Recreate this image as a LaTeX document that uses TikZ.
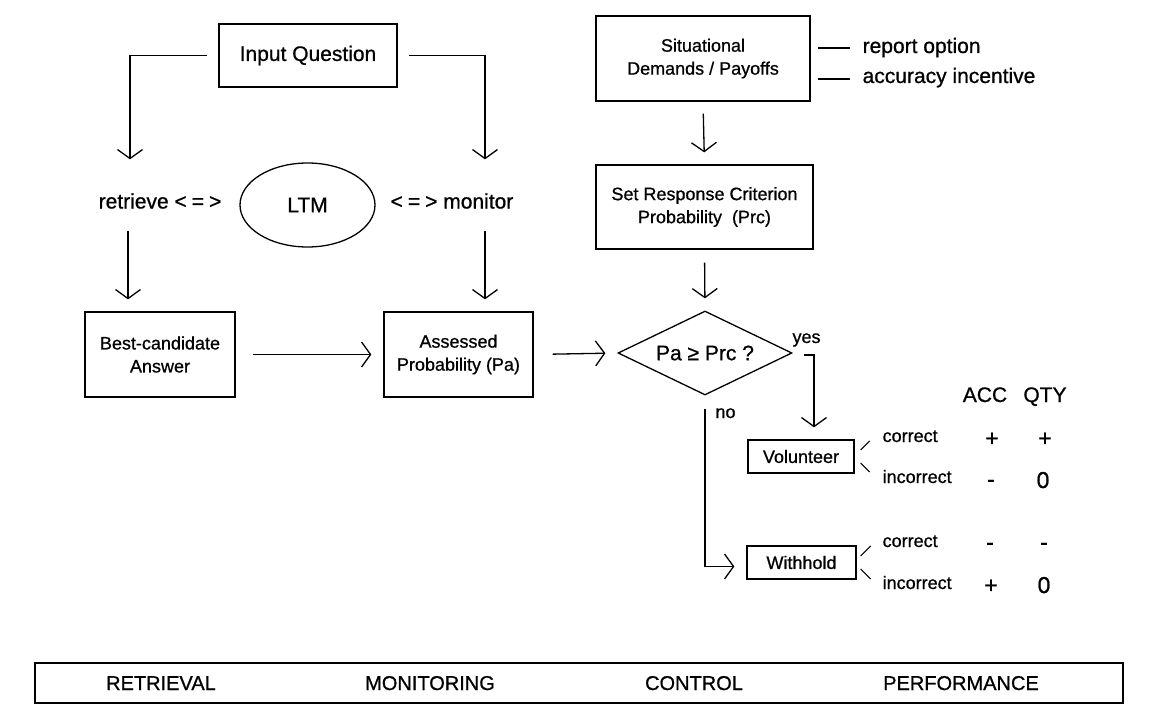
\documentclass[tikz,border=0pt]{standalone}
\usepackage{fontspec}
\setmainfont{Liberation Sans}[BoldFont={Liberation Sans},BoldFeatures={FakeBold=0.8}]
\usetikzlibrary{arrows.meta,shapes.geometric,calc}
\begin{document}
\begin{tikzpicture}[x=1pt,y=-1pt,
  line width=1.3pt,
  box/.style={draw, rectangle, inner sep=0pt, align=center, font=\fontsize{18}{23}\selectfont\bfseries},
  arr/.style={-{Straight Barb[length=9pt,width=25pt]}, shorten >=12pt},
  big/.style={font=\fontsize{21}{25}\selectfont\bfseries, inner sep=0pt},
  med/.style={font=\fontsize{18}{22}\selectfont\bfseries, inner sep=0pt},
  sign/.style={font=\fontsize{23}{25}\selectfont\bfseries, inner sep=0pt, anchor=base},
  phase/.style={font=\fontsize{20}{24}\selectfont\bfseries, inner sep=0pt, anchor=base},
  tall/.style={big, minimum height=58pt},
]
\useasboundingbox (0,0) rectangle (1152,714);

% boxes
\node[box, font=\fontsize{21}{25}\selectfont\bfseries, minimum width=178pt, minimum height=63pt] (inq) at (308,55.5) {Input Question};
\node[tall] (ret) at (160,201) {retrieve <\kern5pt=\kern5pt>};
\node[draw, ellipse, big, minimum width=135pt, minimum height=84pt] (ltm) at (307.5,205) {LTM};
\node[tall] (mon) at (452,201) {<\kern5pt=\kern5pt> monitor};
\node[box, minimum width=150pt, minimum height=85pt] (best) at (160,354.5) {Best-candidate\\Answer};
\node[box, minimum width=149pt, minimum height=85pt] (ass) at (458.5,354.5) {Assessed\\Probability (Pa)};
\node[draw, diamond, aspect=2, inner sep=0pt, minimum width=174pt, minimum height=84pt, font=\fontsize{21}{25}\selectfont\bfseries] (dia) at (705,353) {Pa ≥ Prc ?};
\node[box, minimum width=214pt, minimum height=85pt] (sit) at (703,58.5) {Situational\\Demands / Payoffs};
\node[big, anchor=base west] (rep) at (862,53) {report option};
\node[big, anchor=base west] (acc) at (862,83) {accuracy incentive};
\node[box, minimum width=217pt, minimum height=84pt] (srp) at (704.5,207) {Set Response Criterion\\Probability~~(Prc)};
\node[box, minimum width=106pt, minimum height=33pt] (vol) at (801,456.5) {Volunteer};
\node[box, minimum width=109pt, minimum height=33pt] (wit) at (801.5,562.5) {Withhold};
\node[med, anchor=base] (yes) at (806.5,343) {yes};
\node[med, anchor=base] (no) at (725.5,418) {no};

% outcome table
\node[big, anchor=base] (hacc) at (985,402) {ACC};
\node[big, anchor=base] (hqty) at (1045,402) {QTY};
\node[med, anchor=base west] (vc) at (882,442) {correct};
\node[med, anchor=base west] (vi) at (882,483) {incorrect};
\node[med, anchor=base west] (wc) at (882,547) {correct};
\node[med, anchor=base west] (wi) at (882,589) {incorrect};
\node[sign] (vca) at (992,446) {+};
\node[sign] (vcq) at (1045,446) {+};
\node[sign] (via) at (991,487) {-};
\node[sign] (viq) at (1043,488) {0};
\node[sign] (wca) at (990,550) {-};
\node[sign] (wcq) at (1044,550) {-};
\node[sign] (wia) at (991,593) {+};
\node[sign] (wiq) at (1044,593) {0};

% phases
\node[draw, rectangle, inner sep=0pt, minimum width=1088pt, minimum height=40pt] (bar) at (579,683) {};
\node[phase] (p1) at (161,690) {RETRIEVAL};
\node[phase] (p2) at (430,690) {MONITORING};
\node[phase] (p3) at (694,690) {CONTROL};
\node[phase] (p4) at (961,690) {PERFORMANCE};

% connectors
\draw[arr, shorten <=11pt] (inq.west) -| ([xshift=-30pt]ret.north);
\draw[arr, shorten <=11pt] (inq.east) -| ([xshift=33pt]mon.north);
\draw[arr] ([xshift=-32pt]ret.south) -- ([xshift=-32pt]best.north);
\draw[arr] ([xshift=33pt]mon.south) -- ([xshift=26.5pt]ass.north);
\draw[arr, shorten <=17pt] (best.east) -- (ass.west);
\draw[arr, shorten <=19pt] (ass.east) -- (dia.west);
\draw[arr, shorten <=12pt] (sit.south) -- (srp.north);
\draw[arr, shorten <=13pt] (srp.south) -- (dia.north);
\draw[arr] ([xshift=11pt,yshift=-2pt]dia.east) -| ([xshift=13pt]vol.north);
\draw[arr] ([yshift=-13pt]dia.south) |- ([yshift=-4pt]wit.west);
\draw[shorten <=12pt, shorten >=7pt] (rep.west |- 0,48) -- (sit.east |- 0,48);
\draw[shorten <=12pt, shorten >=7pt] (acc.west |- 0,79) -- (sit.east |- 0,79);
% ticks to outcomes
\draw[line width=1pt] (vol.east) ++(6,-6.5) -- ++(9,-9);
\draw[line width=1pt] (vol.east) ++(6,6.5) -- ++(9,9);
\draw[line width=1pt] (wit.east) ++(4,-6.5) -- ++(10,-10);
\draw[line width=1pt] (wit.east) ++(4,6.5) -- ++(10,10);
\end{tikzpicture}
\end{document}
